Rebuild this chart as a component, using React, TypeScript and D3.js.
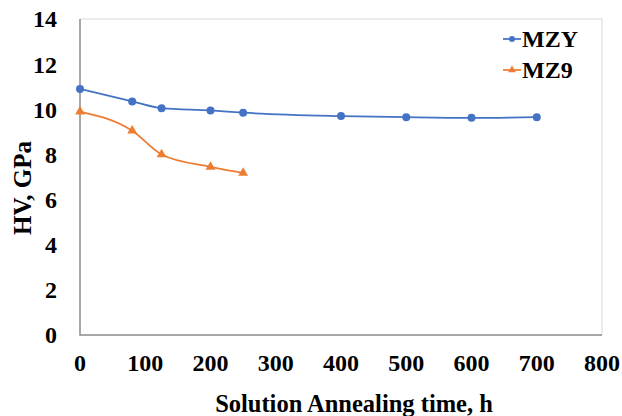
import React, { useRef, useEffect } from "react";
import * as d3 from "d3";

const mzyHours = [0, 80, 125, 200, 250, 400, 500, 600, 700];
const mzyHv = [10.9, 10.35, 10.05, 9.95, 9.85, 9.7, 9.65, 9.62, 9.65];
const mz9Hours = [0, 80, 125, 200, 250];
const mz9Hv = [9.9, 9.05, 8.0, 7.45, 7.18];
const xTicks = [0, 100, 200, 300, 400, 500, 600, 700, 800];
const yTicks = [0, 2, 4, 6, 8, 10, 12, 14];

const BLUE = "#4472C4";
const ORANGE = "#ED7D31";
const FONT = "'Liberation Serif', 'Times New Roman', serif";

const App = () => {
  const svgRef = useRef<SVGSVGElement>(null);

  useEffect(() => {
    const svg = d3.select(svgRef.current);
    svg.selectAll("*").remove();

    const left = 80, right = 602, top = 19, bottom = 335;
    const x = d3.scaleLinear().domain([0, 800]).range([left, right]);
    const y = d3.scaleLinear().domain([0, 14]).range([bottom, top]);

    svg.append("rect").attr("width", 622).attr("height", 416).attr("fill", "#fff");

    const txt = (sel: any, size = 24) =>
      sel.attr("font-family", FONT).attr("font-weight", "bold").attr("font-size", size).attr("fill", "#000");

    // plot frame (light) + axes
    svg
      .append("path")
      .attr("d", `M${left},${top}H${right}V${bottom}`)
      .attr("fill", "none")
      .attr("stroke", "#d9d9d9")
      .attr("stroke-width", 1);
    svg
      .append("path")
      .attr("d", `M${left},${top}V${bottom}H${right}`)
      .attr("fill", "none")
      .attr("stroke", "#8c8c8c")
      .attr("stroke-width", 1.5);

    svg
      .append("g")
      .selectAll("text")
      .data(yTicks)
      .enter()
      .append("text")
      .attr("x", 57)
      .attr("y", (d) => y(d))
      .attr("dy", "0.35em")
      .attr("text-anchor", "end")
      .call(txt, 24)
      .text((d) => d);

    svg
      .append("g")
      .selectAll("text")
      .data(xTicks)
      .enter()
      .append("text")
      .attr("x", (d) => x(d))
      .attr("y", 363)
      .attr("dy", "0.35em")
      .attr("text-anchor", "middle")
      .call(txt, 24)
      .text((d) => d);

    svg
      .append("text")
      .attr("x", 354)
      .attr("y", 403)
      .attr("dy", "0.35em")
      .attr("text-anchor", "middle")
      .call(txt, 24.5)
      .text("Solution Annealing time, h");

    svg
      .append("text")
      .attr("transform", "translate(22,188) rotate(-90)")
      .attr("dy", "0.35em")
      .attr("text-anchor", "middle")
      .call(txt, 25)
      .text("HV, GPa");

    const line = d3
      .line<[number, number]>()
      .x((d) => x(d[0]))
      .y((d) => y(d[1]))
      .curve(d3.curveMonotoneX);

    const mzy = mzyHours.map((h, i) => [h, mzyHv[i]] as [number, number]);
    const mz9 = mz9Hours.map((h, i) => [h, mz9Hv[i]] as [number, number]);

    svg.append("path").datum(mzy).attr("d", line).attr("fill", "none").attr("stroke", BLUE).attr("stroke-width", 1.75);
    svg.append("path").datum(mz9).attr("d", line).attr("fill", "none").attr("stroke", ORANGE).attr("stroke-width", 1.75);

    svg
      .append("g")
      .selectAll("circle")
      .data(mzy)
      .enter()
      .append("circle")
      .attr("cx", (d) => x(d[0]))
      .attr("cy", (d) => y(d[1]))
      .attr("r", 4)
      .attr("fill", BLUE);

    const tri = d3.symbol().type(d3.symbolTriangle).size(42);
    svg
      .append("g")
      .selectAll("path")
      .data(mz9)
      .enter()
      .append("path")
      .attr("d", tri)
      .attr("transform", (d) => `translate(${x(d[0])},${y(d[1])})`)
      .attr("fill", ORANGE);

    // legend
    const legend = [
      { name: "MZY", color: BLUE, marker: "circle" },
      { name: "MZ9", color: ORANGE, marker: "tri" },
    ];
    legend.forEach((s, i) => {
      const ly = 39 + i * 31;
      const g = svg.append("g");
      g.append("line")
        .attr("x1", 503)
        .attr("x2", 521)
        .attr("y1", ly)
        .attr("y2", ly)
        .attr("stroke", s.color)
        .attr("stroke-width", 1.75);
      if (s.marker === "circle") {
        g.append("circle").attr("cx", 512).attr("cy", ly).attr("r", 3).attr("fill", s.color);
      } else {
        g.append("path")
          .attr("d", d3.symbol().type(d3.symbolTriangle).size(26))
          .attr("transform", `translate(512,${ly})`)
          .attr("fill", s.color);
      }
      g.append("text")
        .attr("x", 522)
        .attr("y", ly)
        .attr("dy", "0.35em")
        .call(txt, 24)
        .text(s.name);
    });
  }, []);

  return (
    <svg
      ref={svgRef}
      width={622}
      height={416}
      style={{ position: "absolute", left: 0, top: 0 }}
    />
  );
};

export default App;
